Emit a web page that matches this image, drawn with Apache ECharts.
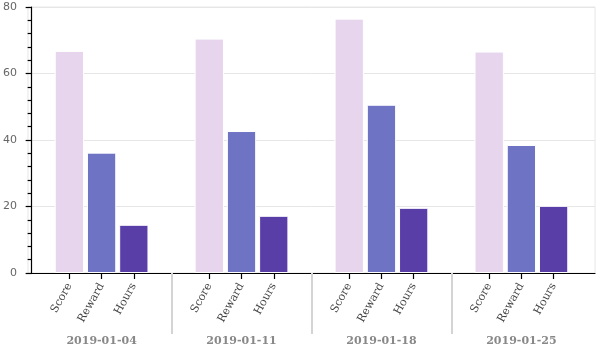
<!DOCTYPE html>
<html>
<head>
<meta charset="utf-8">
<title>Weekly Score, Reward and Hours</title>
<script src="https://cdn.jsdelivr.net/npm/echarts@6/dist/echarts.min.js"></script>
<style>
  html, body { margin: 0; padding: 0; background: #fff; }
  #chart { width: 600px; height: 350px; }
</style>
</head>
<body>
<div id="chart"></div>
<script>
// Weeks and the three measures per week
const weeks = ['2019-01-04', '2019-01-11', '2019-01-18', '2019-01-25'];
const measures = ['Score', 'Reward', 'Hours'];
const score = [66.8, 70.5, 76.5, 66.6];
const reward = [36.2, 42.7, 50.6, 38.5];
const hours = [14.5, 17.2, 19.6, 20.2];
const yTicks = [0, 20, 40, 60, 80];

const seriesValues = [score, reward, hours];
const colors = ['#e6d5ec', '#6e73c4', '#5a3ea7'];

// Bar layout inside each week's band (band = one unit on the x value axis)
const categoryGap = 0.33;
const barGap = 0.1;
const barFrac = (1 - categoryGap) / (measures.length + (measures.length - 1) * barGap);
const pitchFrac = barFrac * (1 + barGap);
const pad = 0.026;

const barCenters = [];
const centerName = {};
weeks.forEach((w, i) => {
  measures.forEach((m, k) => {
    const x = +(i + 0.5 + (k - (measures.length - 1) / 2) * pitchFrac).toFixed(6);
    barCenters.push(x);
    centerName[x.toFixed(4)] = m;
  });
});
const weekCenters = weeks.map((w, i) => i + 0.5);
const weekName = {};
weekCenters.forEach((c, i) => { weekName[c.toFixed(4)] = weeks[i]; });
const separators = weeks.slice(1).map((w, i) => i + 1);

const chart = echarts.init(document.getElementById('chart'), null, { renderer: 'canvas' });

chart.setOption({
  animation: false,
  backgroundColor: '#fff',
  grid: {
    left: 26, right: 5, top: 7, bottom: 77,
    show: true, borderColor: '#e6e6e6', borderWidth: 1
  },
  xAxis: [
    {
      type: 'value',
      min: -pad, max: weeks.length + pad,
      axisLine: { show: true, onZero: false, lineStyle: { color: '#000', width: 1.2 } },
      axisTick: { show: true, customValues: barCenters, length: 6, lineStyle: { color: '#000', width: 1.2 } },
      axisLabel: {
        show: true,
        customValues: barCenters,
        rotate: 61,
        margin: 11,
        fontFamily: 'DejaVu Serif',
        fontSize: 11,
        color: '#444',
        formatter: v => centerName[(+v).toFixed(4)] || ''
      },
      splitLine: { show: false }
    },
    {
      type: 'value',
      position: 'bottom',
      offset: 4,
      min: -pad, max: weeks.length + pad,
      axisLine: { show: false },
      axisTick: { show: true, customValues: separators, length: 61, lineStyle: { color: '#d4d4d4', width: 2 } },
      axisLabel: {
        show: true,
        customValues: weekCenters,
        margin: 59,
        fontFamily: 'DejaVu Serif',
        fontWeight: 'bold',
        fontSize: 11,
        color: '#888',
        formatter: v => weekName[(+v).toFixed(4)] || ''
      },
      splitLine: { show: false }
    }
  ],
  yAxis: {
    type: 'value',
    min: yTicks[0], max: yTicks[yTicks.length - 1], interval: yTicks[1] - yTicks[0],
    axisLine: { show: true, lineStyle: { color: '#000', width: 1.2 } },
    axisTick: { show: true, length: 6, lineStyle: { color: '#000', width: 1.2 } },
    minorTick: { show: true, splitNumber: 5, length: 4, lineStyle: { color: '#000', width: 1.2 } },
    axisLabel: { margin: 11, fontFamily: 'DejaVu Sans', fontSize: 11, color: '#666' },
    splitLine: { show: true, lineStyle: { color: '#e6e6e6', width: 1 } }
  },
  series: measures.map((m, k) => ({
    name: m,
    type: 'bar',
    xAxisIndex: 0,
    barGap: (barGap * 100) + '%',
    barCategoryGap: (categoryGap * 100) + '%',
    itemStyle: { color: colors[k], borderColor: '#fff', borderWidth: 1 },
    data: seriesValues[k].map((v, i) => [i + 0.5, v])
  }))
});
</script>
</body>
</html>
